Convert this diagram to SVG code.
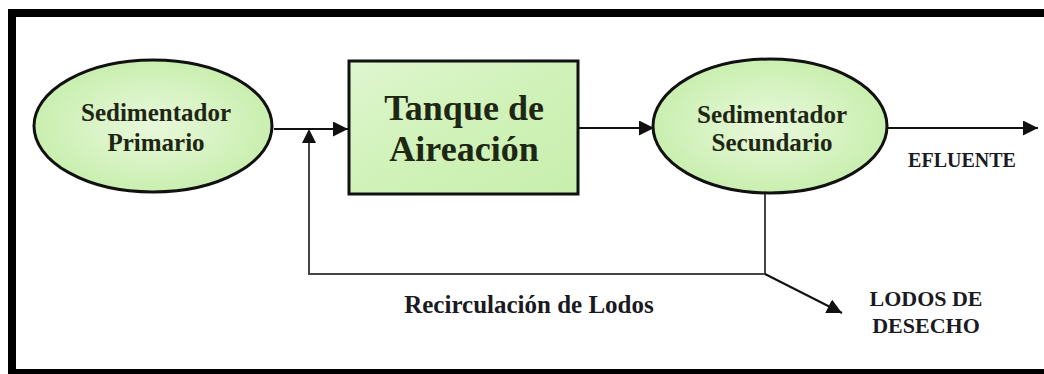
<svg xmlns="http://www.w3.org/2000/svg" width="1044" height="374" viewBox="0 0 1044 374">
<defs>
<radialGradient id="gEll" cx="50%" cy="50%" r="55%">
<stop offset="0" stop-color="#e9f8dc"/>
<stop offset="1" stop-color="#c6eeab"/>
</radialGradient>
<linearGradient id="gBox" x1="0" y1="0" x2="1" y2="1">
<stop offset="0" stop-color="#dff6cf"/>
<stop offset="0.5" stop-color="#d0f2b9"/>
<stop offset="1" stop-color="#c8efae"/>
</linearGradient>
<marker id="arrB" viewBox="0 0 10 10" refX="10" refY="5" markerWidth="15" markerHeight="15" markerUnits="userSpaceOnUse" orient="auto">
<path d="M0,0 L10,5 L0,10 Z" fill="#111"/>
</marker>
</defs>
<style>
.node{stroke:#111;stroke-width:3}
.t{font-family:"Liberation Serif","Times New Roman",serif;font-weight:bold;fill:#1e2614;text-anchor:middle}
.lbl{font-family:"Liberation Serif","Times New Roman",serif;font-weight:bold;fill:#1a1a22;text-anchor:middle}
.c{fill:none;stroke:#111;stroke-width:2}
.g{fill:none;stroke:#444;stroke-width:2}
</style>
<rect x="0" y="0" width="1044" height="374" fill="#fff"/>
<rect x="12" y="13" width="1040" height="360" fill="none" stroke="#000" stroke-width="8"/>
<g id="connectors">
<line class="c" x1="274" y1="129" x2="348" y2="129" marker-end="url(#arrB)"/>
<line class="c" x1="579" y1="128" x2="654" y2="128" marker-end="url(#arrB)"/>
<line class="c" x1="887" y1="128" x2="1038" y2="128" marker-end="url(#arrB)"/>
<polyline class="g" points="765,193 765,274 309,274 309,131"/>
<path d="M309,129 L302,143 L316,143 Z" fill="#111"/>
<line class="c" x1="765" y1="274" x2="842" y2="313" marker-end="url(#arrB)"/>
</g>
<g id="sedimentador-primario">
<ellipse class="node" cx="153" cy="126" rx="119" ry="66" fill="url(#gEll)"/>
<text class="t" x="156" y="121" font-size="25">Sedimentador</text>
<text class="t" x="156" y="151" font-size="25">Primario</text>
</g>
<g id="tanque-aireacion">
<rect class="node" x="349" y="61" width="229" height="133" fill="url(#gBox)"/>
<text class="t" x="464" y="120" font-size="36">Tanque de</text>
<text class="t" x="464" y="161" font-size="36">Aireación</text>
</g>
<g id="sedimentador-secundario">
<ellipse class="node" cx="770" cy="126" rx="117" ry="67" fill="url(#gEll)"/>
<text class="t" x="772" y="123" font-size="25">Sedimentador</text>
<text class="t" x="772" y="151" font-size="25">Secundario</text>
</g>
<g id="labels">
<text class="lbl" x="962" y="167" font-size="20">EFLUENTE</text>
<text class="lbl" x="529" y="313" font-size="25">Recirculación de Lodos</text>
<text class="lbl" x="926" y="306" font-size="22">LODOS DE</text>
<text class="lbl" x="926" y="333" font-size="22">DESECHO</text>
</g>
</svg>
